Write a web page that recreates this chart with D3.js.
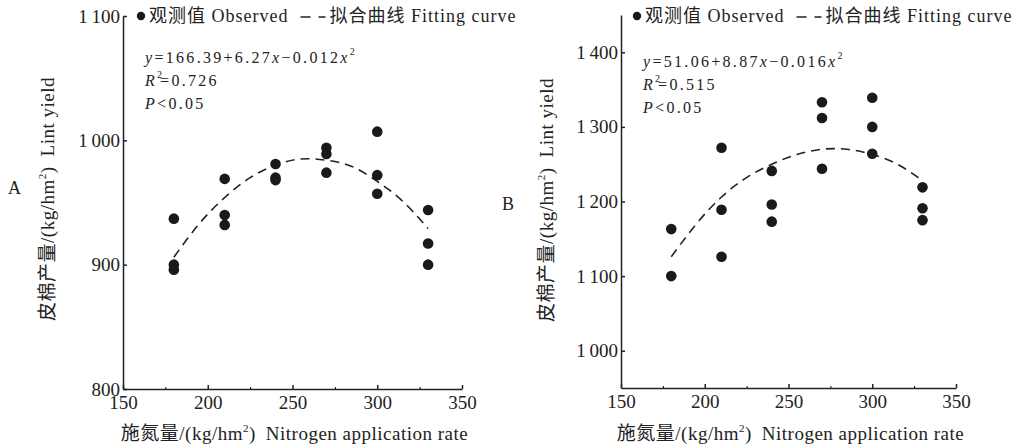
<!DOCTYPE html>
<html>
<head>
<meta charset="utf-8">
<script src="https://cdn.jsdelivr.net/npm/d3@7"></script>
<style>
  body { margin: 0; background: #fff; }
  svg { display: block; font-family: "Liberation Serif", "Noto Sans CJK SC", serif; }
</style>
</head>
<body>
<svg id="chart" width="1027" height="448"></svg>
<script>
// nitrogen rates (x) and observed lint yield (three plots per rate)
var nitrogenRates = [180, 210, 240, 270, 300, 330];
var yieldA = [[937, 900, 896], [969, 940, 932], [981, 970, 968], [994, 989, 974], [1007, 972, 957], [944, 917, 900]];
var yieldB = [[1163, 1100], [1272, 1189, 1126], [1241, 1196, 1173], [1333, 1312, 1244], [1339, 1300, 1264], [1219, 1191, 1175]];

// fitted curve
var curveX = [180, 195, 210, 225, 240, 255, 270, 285, 300, 315, 330];
var curveA = [906, 933, 954, 970, 980, 985, 984, 979, 967, 951, 929];
var curveB = [1126, 1170, 1206, 1232, 1250, 1263, 1270, 1270, 1263, 1250, 1228];

var xTicks = [150, 200, 250, 300, 350];
var xMinorTicks = [175, 225, 275, 325];
var yTicksA = [800, 900, 1000, 1100];
var yTicksB = [1000, 1100, 1200, 1300, 1400];

var equationA = ["166.39+6.27", "\u22120.012", "0.726"];
var equationB = ["51.06+8.87", "\u22120.016", "0.515"];

var svg = d3.select("#chart");

var fmt = function(v){
  var s = String(v);
  return s.length > 3 ? s.slice(0, s.length - 3) + "\u2009" + s.slice(-3) : s;
};

var drawPanel = function(opt){
  var g = svg.append("g");
  var xScale = d3.scaleLinear().domain([150, 350]).range([opt.left, opt.right]);
  var yScale = d3.scaleLinear().domain(opt.yDomain).range([opt.bottom, opt.top]);

  // x axis
  var xAxis = d3.axisBottom(xScale).tickValues(xTicks).tickSize(-4).tickSizeOuter(0)
                .tickPadding(7).tickFormat(fmt);
  var xg = g.append("g").attr("transform", "translate(0," + opt.bottom + ")").call(xAxis);
  g.append("g").attr("transform", "translate(0," + opt.bottom + ")")
   .call(d3.axisBottom(xScale).tickValues(xMinorTicks).tickSize(-2).tickSizeOuter(0).tickFormat(""))
   .select(".domain").remove();

  // y axis
  var yAxis = d3.axisLeft(yScale).tickValues(opt.yTicks).tickSize(-4).tickSizeOuter(0)
                .tickPadding(3).tickFormat(fmt);
  var yg = g.append("g").attr("transform", "translate(" + opt.left + ",0)").call(yAxis);

  [xg, yg].forEach(function(a){
    a.selectAll("path, line").attr("stroke", "#222").attr("stroke-width", 1.5);
    a.selectAll("text").attr("font-size", 19).attr("fill", "#222")
     .attr("font-family", "Liberation Serif, serif");
  });
  yg.selectAll("text").attr("dy", "0.32em");

  // fitted curve
  var line = d3.line()
               .x(function(d, i){ return xScale(curveX[i]); })
               .y(function(d){ return yScale(d); })
               .curve(d3.curveNatural);
  g.append("path").datum(opt.curve)
   .attr("d", line)
   .attr("fill", "none")
   .attr("stroke", "#222")
   .attr("stroke-width", 1.6)
   .attr("stroke-dasharray", "9,6");

  // observed points
  var pts = [];
  nitrogenRates.forEach(function(n, i){
    opt.obs[i].forEach(function(v){ pts.push({x: n, y: v}); });
  });
  g.selectAll("circle.obs").data(pts).enter().append("circle")
   .classed("obs", true)
   .attr("cx", function(d){ return xScale(d.x); })
   .attr("cy", function(d){ return yScale(d.y); })
   .attr("r", 5.3)
   .attr("fill", "#1a1a1a");

  // legend
  var lx = opt.left + opt.legendDx;
  var ly = 22;
  g.append("circle").attr("cx", lx).attr("cy", ly - 6).attr("r", 4.2).attr("fill", "#1a1a1a");
  var t1 = g.append("text").attr("x", lx + 8).attr("y", ly).attr("font-size", 18)
            .attr("letter-spacing", 1).attr("fill", "#222").text("观测值 Observed");
  var e1 = lx + 8 + t1.node().getComputedTextLength();
  g.append("line").attr("x1", e1 + 12).attr("x2", e1 + 39).attr("y1", ly - 5).attr("y2", ly - 5)
   .attr("stroke", "#222").attr("stroke-width", 1.6).attr("stroke-dasharray", "10,8,7,100");
  g.append("text").attr("x", e1 + 41).attr("y", ly).attr("font-size", 18)
   .attr("letter-spacing", 1).attr("fill", "#222").text("拟合曲线 Fitting curve");

  // equation
  var ex = opt.left + opt.eqDx;
  var eq = g.append("g").attr("font-size", 16).attr("letter-spacing", 2.3).attr("fill", "#222")
            .attr("font-family", "Liberation Serif, serif");
  var l1 = eq.append("text").attr("x", ex).attr("y", opt.eqY);
  l1.append("tspan").attr("font-style", "italic").text("y");
  l1.append("tspan").text("=" + opt.eq[0]);
  l1.append("tspan").attr("font-style", "italic").text("x");
  l1.append("tspan").text(opt.eq[1]);
  l1.append("tspan").attr("font-style", "italic").text("x");
  l1.append("tspan").attr("font-size", 10).attr("dy", -8).text("2");
  var l2 = eq.append("text").attr("x", ex).attr("y", opt.eqY + 23);
  l2.append("tspan").attr("font-style", "italic").text("R");
  l2.append("tspan").attr("font-size", 10).attr("dy", -8).attr("letter-spacing", 0).text("2");
  l2.append("tspan").attr("dy", 8).attr("dx", -2).text("=" + opt.eq[2]);
  var l3 = eq.append("text").attr("x", ex).attr("y", opt.eqY + 46);
  l3.append("tspan").attr("font-style", "italic").text("P");
  l3.append("tspan").text("<0.05");

  // axis titles
  var xt = g.append("text").attr("x", (opt.left + opt.right) / 2 + 2).attr("y", 440)
            .attr("text-anchor", "middle").attr("font-size", 19).attr("letter-spacing", 0.5)
            .attr("fill", "#222");
  xt.append("tspan").text("施氮量/(kg/hm");
  xt.append("tspan").attr("font-size", 11).attr("dy", -8).text("2");
  xt.append("tspan").attr("dy", 8).text(")\u2002Nitrogen application rate");

  var yt = g.append("text")
            .attr("transform", "translate(" + opt.yTitleX + "," + opt.yTitleY + ") rotate(-90)")
            .attr("text-anchor", "middle").attr("font-size", 19).attr("letter-spacing", 0.5)
            .attr("fill", "#222");
  yt.append("tspan").text("皮棉产量/(kg/hm");
  yt.append("tspan").attr("font-size", 11).attr("dy", -8).text("2");
  yt.append("tspan").attr("dy", 8).text(")\u2002Lint yield");

  g.append("text").attr("x", opt.tagX).attr("y", opt.tagY).attr("font-size", 18)
   .attr("fill", "#222").text(opt.tag);
};

drawPanel({
  left: 123, right: 462, top: 16, bottom: 389,
  yDomain: [800, 1100], yTicks: yTicksA,
  obs: yieldA, curve: curveA, eq: equationA,
  legendDx: 18, eqDx: 22, eqY: 63,
  yTitleX: 54, yTitleY: 199, tag: "A", tagX: 8, tagY: 194
});

drawPanel({
  left: 621, right: 956, top: 15, bottom: 388,
  yDomain: [950, 1450], yTicks: yTicksB,
  obs: yieldB, curve: curveB, eq: equationB,
  legendDx: 16, eqDx: 22, eqY: 67,
  yTitleX: 553, yTitleY: 200, tag: "B", tagX: 502, tagY: 210
});
</script>
</body>
</html>
